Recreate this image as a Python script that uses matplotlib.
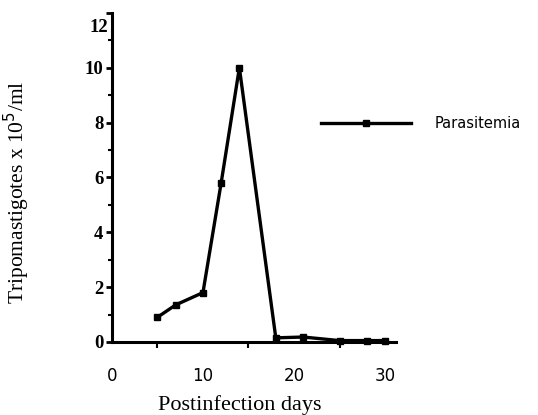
import matplotlib
matplotlib.use("Agg")
import matplotlib.pyplot as plt
from matplotlib.ticker import MultipleLocator

# postinfection days and parasitemia (x 10^5 trypomastigotes / ml)
days = [5, 7, 10, 12, 14, 18, 21, 25, 28, 30]
parasitemia = [0.9, 1.35, 1.8, 5.8, 10.0, 0.15, 0.18, 0.05, 0.05, 0.05]

xticks = [0, 10, 20, 30]
yticks = [0, 2, 4, 6, 8, 10, 12]

fig = plt.figure(figsize=(5.38, 4.15), dpi=100)
ax = fig.add_axes([0.208, 0.176, 0.528, 0.793])

line, = ax.plot(days, parasitemia, color="black", lw=2.4, marker="s",
                markersize=4.5, clip_on=False)

ax.set_xlim(0, 31.2)
ax.set_ylim(0, 12)
ax.set_xticks(xticks)
ax.xaxis.set_minor_locator(MultipleLocator(5))
ax.set_yticks(yticks)
ax.yaxis.set_minor_locator(MultipleLocator(1))
# the top label sits a little below its tick in the original, draw it apart
ax.set_yticklabels([str(v) for v in yticks[:-1]] + [""])
ax.text(-0.012, 11.45, str(yticks[-1]), transform=ax.get_yaxis_transform(),
        ha="right", va="center", family="Liberation Serif", fontsize=13.5,
        fontweight="bold")

for s in ["top", "right"]:
    ax.spines[s].set_visible(False)
for s in ["left", "bottom"]:
    ax.spines[s].set_linewidth(2.2)

ax.tick_params(axis="x", which="major", length=0, pad=18,
               labelsize=12, labelfontfamily="DejaVu Sans")
ax.tick_params(axis="x", which="minor", length=4, width=1.5)
ax.tick_params(axis="y", which="major", length=4, width=2, pad=2,
               labelsize=13.5, labelfontfamily="Liberation Serif")
ax.tick_params(axis="y", which="minor", length=3, width=1.5)
for t in ax.get_yticklabels():
    t.set_fontweight("bold")

ax.set_xlabel("Postinfection days", family="Liberation Serif", fontsize=16)
ax.xaxis.set_label_coords(0.45, -0.16)
ax.set_ylabel("Tripomastigotes x 10$^5$/ml", family="Liberation Serif",
              fontsize=15.5)
ax.yaxis.set_label_coords(-0.28, 0.456)

leg = fig.legend([line], ["Parasitemia"], loc="center left",
                 bbox_to_anchor=(0.572, 0.703), frameon=False,
                 handlelength=6.2, handletextpad=1.6,
                 prop={"family": "DejaVu Sans", "size": 10.5})

fig.savefig("out.png", dpi=100)
